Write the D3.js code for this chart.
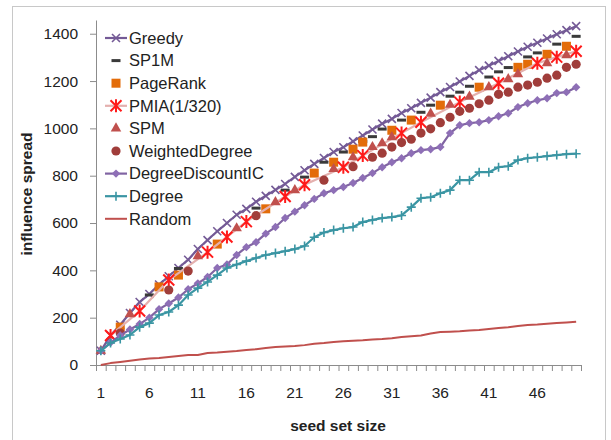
<!DOCTYPE html>
<html>
<head>
<meta charset="utf-8">
<script src="https://cdn.jsdelivr.net/npm/d3@7"></script>
<style>
  html, body { margin: 0; padding: 0; background: #fff; }
  svg { display: block; }
  text { font-family: "Liberation Sans", Arial, sans-serif; fill: #222; }
</style>
</head>
<body>
<svg id="chart" width="611" height="440"></svg>
<script>
// Seed set sizes 1..50 (categories) and the labelled ticks
const seedSizes = d3.range(1, 51);
const xTickLabels = [1, 6, 11, 16, 21, 26, 31, 36, 41, 46];
const yTickValues = [0, 200, 400, 600, 800, 1000, 1200, 1400];

// Influence spread per algorithm (null = no point at that seed size)
const greedy = [60,125,170,220,266,300,340,375,410,445,490,528,565,600,635,660,690,715,740,765,
  795,823,850,875,900,920,945,970,995,1020,1040,1065,1085,1108,1130,1153,1175,1198,1222,1246,
  1265,1285,1305,1325,1345,1362,1380,1398,1415,1432];
const sp1m = [null,null,null,null,null,296,null,null,408,null,null,null,null,null,null,null,663,null,null,739,
  null,794,null,857,null,900,null,945,965,997,null,1035,null,1068,1098,null,1136,1153,1178,null,
  1217,1239,1257,null,1302,1319,null,1356,null,1389];
const pageRank = [null,null,160,null,null,null,330,null,380,null,null,null,511,null,null,null,null,660,null,null,
  null,null,811,null,857,null,912,942,null,null,992,null,1035,null,null,1098,null,null,null,1174,
  null,null,null,1258,1271,null,1313,null,1347,null];
const pmia = [null,125,null,null,228,null,null,359,null,null,null,477,null,541,null,606,null,null,null,712,
  null,762,null,null,null,836,null,885,null,null,null,980,null,1026,null,null,null,1111,null,null,
  null,1191,null,null,null,1275,null,1301,null,1326];
const spm = [60,null,null,215,null,null,null,null,null,null,460,null,null,null,578,null,null,null,688,null,
  739,null,null,null,828,null,878,null,921,937,963,null,null,null,1062,null,1100,null,1134,null,
  1174,null,1208,1229,null,null,1275,null,1309,null];
const weightedDegree = [null,null,135,null,null,null,null,317,null,397,null,null,null,null,null,null,631,null,null,null,
  null,null,null,781,null,null,838,null,878,895,921,940,954,980,998,1024,1047,1072,1085,1104,
  1119,1144,1153,1174,1183,1195,1212,1225,1258,1271];
const degreeDiscountIC = [60,95,125,150,173,200,236,260,285,320,345,372,410,425,465,498,519,555,583,621,
  648,675,702,726,739,752,769,790,811,836,857,874,895,908,912,921,980,1013,1022,1026,
  1035,1051,1064,1090,1106,1119,1127,1149,1153,1174];
const degree = [60,93,110,127,160,177,211,224,253,296,325,351,380,410,425,439,452,465,473,481,
  490,503,540,560,570,578,583,604,613,621,625,632,667,705,709,726,739,781,781,815,
  815,836,840,866,874,878,883,887,891,893];
const random = [0,8,13,18,23,27,30,34,38,42,42,51,53,56,59,63,67,72,76,78,
  80,84,90,93,97,100,103,105,108,110,113,118,122,125,133,139,141,143,146,148,
  152,156,160,165,169,171,174,177,180,183];

const seriesList = [
  { name: "Greedy", values: greedy, line: "#745a96", lineWidth: 2.2, marker: "times", mColor: "#745a96" },
  { name: "SP1M", values: sp1m, line: null, marker: "dash", mColor: "#3a3a3a" },
  { name: "PageRank", values: pageRank, line: null, marker: "square", mColor: "#e36c09" },
  { name: "PMIA(1/320)", values: pmia, line: "#e4b0ae", lineWidth: 2.2, marker: "star", mColor: "#ff1a1a" },
  { name: "SPM", values: spm, line: null, marker: "triangle", mColor: "#c0504d" },
  { name: "WeightedDegree", values: weightedDegree, line: null, marker: "circle", mColor: "#a03d3a" },
  { name: "DegreeDiscountIC", values: degreeDiscountIC, line: "#8064a2", lineWidth: 2.2, marker: "diamond", mColor: "#8e6fb6" },
  { name: "Degree", values: degree, line: "#3a95a3", lineWidth: 2.2, marker: "plus", mColor: "#3a95a3" },
  { name: "Random", values: random, line: "#c0504d", lineWidth: 2, marker: null }
];

const svg = d3.select("#chart");

// chart frame
svg.append("rect")
  .attr("x", 12.5).attr("y", 6.5).attr("width", 593).attr("height", 450)
  .attr("fill", "#fff").attr("stroke", "#c8c8c8").attr("stroke-width", 1);

const plotLeft = 96, plotRight = 581, plotBottom = 365, plotTop = 20;

const x = d3.scaleBand().domain(seedSizes).range([plotLeft, plotRight]).padding(0);
const xEdge = d3.scaleLinear().domain([0.5, 50.5]).range([plotLeft, plotRight]);
const y = d3.scaleLinear().domain([0, 1458]).range([plotBottom, plotTop]);
const cx = d => x(d) + x.bandwidth() / 2;

const axisColor = "#8c8c8c";

// y axis
const yAxis = svg.append("g")
  .attr("transform", `translate(${plotLeft},0)`)
  .call(d3.axisLeft(y).tickValues(yTickValues).tickFormat(d3.format("d"))
    .tickSize(6).tickSizeOuter(0).tickPadding(12));
yAxis.select(".domain").attr("stroke", axisColor);
yAxis.selectAll(".tick line").attr("stroke", axisColor);
yAxis.selectAll(".tick text").style("font-size", "15.5px").attr("fill", "#222");

// x axis: tick marks on category boundaries, labels every fifth category
const xAxisTicks = svg.append("g")
  .attr("transform", `translate(0,${plotBottom})`)
  .call(d3.axisBottom(xEdge).tickValues(d3.range(0.5, 51, 1)).tickFormat("").tickSize(6).tickSizeOuter(0));
xAxisTicks.select(".domain").attr("stroke", axisColor);
xAxisTicks.selectAll(".tick line").attr("stroke", axisColor);

const xAxisLabels = svg.append("g")
  .attr("transform", `translate(0,${plotBottom})`)
  .call(d3.axisBottom(x).tickValues(xTickLabels).tickSize(0).tickPadding(22));
xAxisLabels.select(".domain").remove();
xAxisLabels.selectAll(".tick text").style("font-size", "15.5px").attr("fill", "#222");

// axis titles
svg.append("text")
  .attr("x", 338).attr("y", 431)
  .attr("text-anchor", "middle")
  .style("font-size", "15.5px").style("font-weight", "bold")
  .text("seed set size");
svg.append("text")
  .attr("transform", "translate(32,194) rotate(-90)")
  .attr("text-anchor", "middle")
  .style("font-size", "15.5px").style("font-weight", "bold")
  .text("influence spread");

// marker drawing
function drawMarker(g, type, color) {
  switch (type) {
    case "times":
      g.append("path").attr("d", "M-4,-4L4,4M-4,4L4,-4").attr("stroke", color).attr("stroke-width", 1.6).attr("fill", "none");
      break;
    case "plus":
      g.append("path").attr("d", "M-4.5,0L4.5,0M0,-4.5L0,4.5").attr("stroke", color).attr("stroke-width", 1.6).attr("fill", "none");
      break;
    case "dash":
      g.append("rect").attr("x", -4.5).attr("y", -1.5).attr("width", 9).attr("height", 3).attr("fill", color);
      break;
    case "square":
      g.append("rect").attr("x", -4.5).attr("y", -4.5).attr("width", 9).attr("height", 9).attr("fill", color);
      break;
    case "star":
      g.append("path").attr("d", "M-5.5,-5.5L5.5,5.5M-5.5,5.5L5.5,-5.5M0,-6.5L0,6.5")
        .attr("stroke", color).attr("stroke-width", 2).attr("fill", "none");
      break;
    case "triangle":
      g.append("path").attr("d", d3.symbol(d3.symbolTriangle, 48)()).attr("fill", color);
      break;
    case "circle":
      g.append("circle").attr("r", 4.6).attr("fill", color);
      break;
    case "diamond":
      g.append("path").attr("d", "M0,-4.2L4.2,0L0,4.2L-4.2,0Z").attr("fill", color);
      break;
  }
}

// series
seriesList.forEach(s => {
  const pts = seedSizes.map((k, i) => ({ k, v: s.values[i] })).filter(p => p.v !== null);
  const g = svg.append("g").attr("class", "series");
  if (s.line) {
    g.append("path")
      .datum(pts)
      .attr("d", d3.line().x(p => cx(p.k)).y(p => y(p.v)))
      .attr("fill", "none")
      .attr("stroke", s.line)
      .attr("stroke-width", s.lineWidth)
      .attr("stroke-linejoin", "round");
  }
  if (s.marker) {
    g.selectAll("g.m").data(pts).enter().append("g")
      .attr("class", "m")
      .attr("transform", p => `translate(${cx(p.k)},${y(p.v)})`)
      .each(function () { drawMarker(d3.select(this), s.marker, s.mColor); });
  }
});

// legend
const legend = svg.append("g").attr("transform", "translate(105,38)");
seriesList.forEach((s, i) => {
  const row = legend.append("g").attr("transform", `translate(0,${i * 22.6})`);
  if (s.line) {
    row.append("line").attr("x1", 0).attr("x2", 22).attr("y1", 0).attr("y2", 0)
      .attr("stroke", s.line).attr("stroke-width", s.lineWidth);
  }
  if (s.marker) {
    const m = row.append("g").attr("transform", "translate(11,0)");
    drawMarker(m, s.marker, s.mColor);
  }
  row.append("text").attr("x", 24).attr("y", 0).attr("dy", "0.35em")
    .style("font-size", "16.5px").text(s.name);
});
</script>
</body>
</html>
